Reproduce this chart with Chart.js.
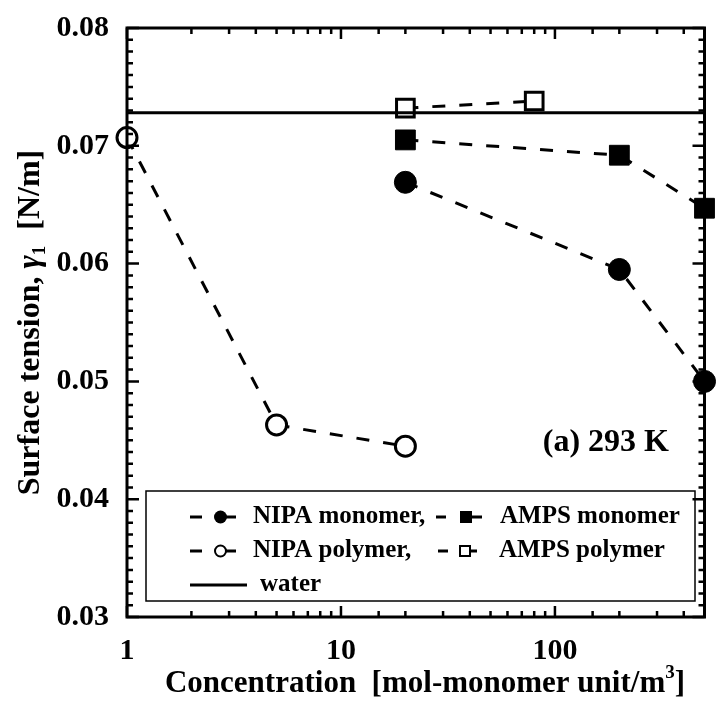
<!DOCTYPE html>
<html><head><meta charset="utf-8">
<script src="https://cdn.jsdelivr.net/npm/chart.js@4/dist/chart.umd.min.js"></script>
<style>html,body{margin:0;padding:0;background:#fff}#wrap{width:720px;height:702px}</style>
</head><body><div id="wrap"><canvas id="c" width="720" height="702"></canvas></div>
<script>
// ---- data ----
const nipaMonoX = [20, 200, 500];
const nipaMonoY = [0.0669, 0.0595, 0.0500];
const ampsMonoX = [20, 200, 500];
const ampsMonoY = [0.0705, 0.0692, 0.0647];
const nipaPolyX = [1, 5, 20];
const nipaPolyY = [0.0707, 0.0463, 0.0445];
const ampsPolyX = [20, 80];
const ampsPolyY = [0.0732, 0.0738];
const waterX = [1, 500];
const waterY = [0.0728, 0.0728];
const xTickLabels = [1, 10, 100];
const yTickLabels = [0.03, 0.04, 0.05, 0.06, 0.07, 0.08];
const legendLabels = ['NIPA monomer,', 'AMPS monomer', 'NIPA polymer,', 'AMPS polymer', 'water'];
const xTitle = 'Concentration  [mol-monomer unit/m';
const yTitleA = 'Surface tension, ';
const yTitleB = '  [N/m]';
const panelLabel = '(a) 293 K';

const FONT = '"Liberation Serif", "Times New Roman", serif';
const pts = (xs, ys) => xs.map((x, i) => ({x: x, y: ys[i]}));
const DASH = [13, 14];

function isMajorY(v){ return yTickLabels.some(t => Math.abs(t - v) < 1e-7); }

const framePlugin = {
  id: 'frame',
  afterDatasetsDraw(chart) {
    const ctx = chart.ctx, a = chart.chartArea;
    const xs = chart.scales.x, ys = chart.scales.y;
    ctx.save();
    ctx.strokeStyle = '#000';
    ctx.lineWidth = 3;
    ctx.strokeRect(a.left, a.top, a.right - a.left, a.bottom - a.top);
    ctx.lineWidth = 2.5;
    xs.ticks.forEach(t => {
      const px = xs.getPixelForValue(t.value);
      if (px < a.left - 1 || px > a.right + 1) return;
      const len = xTickLabels.includes(t.value) ? 11 : 6;
      ctx.beginPath();
      ctx.moveTo(px, a.bottom); ctx.lineTo(px, a.bottom - len);
      ctx.moveTo(px, a.top); ctx.lineTo(px, a.top + len);
      ctx.stroke();
    });
    ys.ticks.forEach(t => {
      const py = ys.getPixelForValue(t.value);
      const len = isMajorY(t.value) ? 12 : 6;
      ctx.beginPath();
      ctx.moveTo(a.left, py); ctx.lineTo(a.left + len, py);
      ctx.moveTo(a.right, py); ctx.lineTo(a.right - len, py);
      ctx.stroke();
    });
    ctx.restore();
  },
  afterDraw(chart) {
    const ctx = chart.ctx, a = chart.chartArea;
    ctx.save();
    ctx.fillStyle = '#000';
    ctx.strokeStyle = '#000';
    ctx.font = 'bold 32px ' + FONT;
    ctx.textAlign = 'right';
    ctx.textBaseline = 'alphabetic';
    ctx.fillText(panelLabel, 669, 451);

    const L = 146, R = 695, T = 491, B = 601;
    ctx.lineWidth = 1.5;
    ctx.strokeRect(L, T, R - L, B - T);
    const rows = [517, 551, 585];
    ctx.font = 'bold 25px ' + FONT;
    ctx.textAlign = 'left';
    ctx.textBaseline = 'middle';
    ctx.lineWidth = 3;
    function seg(x1, x2, y){ ctx.beginPath(); ctx.moveTo(x1, y); ctx.lineTo(x2, y); ctx.stroke(); }
    seg(190, 202, rows[0]); seg(222, 236, rows[0]);
    ctx.beginPath(); ctx.arc(220.5, rows[0], 6.5, 0, Math.PI * 2); ctx.fill();
    ctx.fillText(legendLabels[0], 253, rows[0]);
    seg(436, 446, rows[0]); seg(466, 482, rows[0]);
    ctx.fillRect(460, rows[0] - 6, 12, 12);
    ctx.fillText(legendLabels[1], 500, rows[0]);
    seg(190, 202, rows[1]); seg(226, 236, rows[1]);
    ctx.lineWidth = 2;
    ctx.beginPath(); ctx.arc(220.5, rows[1], 5.5, 0, Math.PI * 2);
    ctx.fillStyle = '#fff'; ctx.fill(); ctx.stroke();
    ctx.fillStyle = '#000';
    ctx.lineWidth = 3;
    seg(438, 448, rows[1]); seg(469, 477, rows[1]);
    ctx.lineWidth = 2;
    ctx.strokeRect(460, rows[1] - 5, 10, 10);
    ctx.lineWidth = 3;
    ctx.fillText(legendLabels[2], 253, rows[1]);
    ctx.fillText(legendLabels[3], 499, rows[1]);
    seg(190, 247, rows[2]);
    ctx.fillText(legendLabels[4], 260, rows[2]);

    // x title
    ctx.font = 'bold 31px ' + FONT;
    ctx.textBaseline = 'alphabetic';
    ctx.textAlign = 'left';
    const w1 = ctx.measureText(xTitle).width;
    ctx.font = 'bold 19px ' + FONT;
    const w2 = ctx.measureText('3').width;
    ctx.font = 'bold 31px ' + FONT;
    const w3 = ctx.measureText(']').width;
    const total = w1 + w2 + w3;
    let x0 = 425 - total / 2;
    const by = 692;
    ctx.fillText(xTitle, x0, by);
    ctx.font = 'bold 19px ' + FONT;
    ctx.fillText('3', x0 + w1, by - 14);
    ctx.font = 'bold 31px ' + FONT;
    ctx.fillText(']', x0 + w1 + w2, by);

    // y title (rotated)
    ctx.save();
    ctx.translate(39, (a.top + a.bottom) / 2);
    ctx.rotate(-Math.PI / 2);
    ctx.font = 'bold 32px ' + FONT;
    const ya = ctx.measureText(yTitleA).width;
    ctx.font = 'italic bold 32px ' + FONT;
    const yg = ctx.measureText('γ').width;
    ctx.font = 'bold 19px ' + FONT;
    const y1 = ctx.measureText('1').width;
    ctx.font = 'bold 32px ' + FONT;
    const yb = ctx.measureText(yTitleB).width;
    const tot = ya + yg + y1 + yb;
    let sx = -tot / 2;
    ctx.textAlign = 'left';
    ctx.textBaseline = 'alphabetic';
    ctx.fillText(yTitleA, sx, 0); sx += ya;
    ctx.font = 'italic bold 32px ' + FONT;
    ctx.fillText('γ', sx, 0); sx += yg;
    ctx.font = 'bold 19px ' + FONT;
    ctx.fillText('1', sx, 6); sx += y1;
    ctx.font = 'bold 32px ' + FONT;
    ctx.fillText(yTitleB, sx, 0);
    ctx.restore();
    ctx.restore();
  }
};

const ds = (label, data, style, radius, filled, dashed) => ({
  label: label,
  data: data,
  showLine: true,
  borderColor: '#000',
  borderWidth: 3,
  borderDash: dashed ? DASH : [],
  pointStyle: style,
  pointRadius: radius,
  pointHoverRadius: radius,
  pointBackgroundColor: filled ? '#000' : '#fff',
  pointBorderColor: '#000',
  pointBorderWidth: filled ? 1 : 3,
  clip: false,
  fill: false
});

new Chart(document.getElementById('c'), {
  type: 'scatter',
  data: {
    datasets: [
      ds('water', pts(waterX, waterY), 'circle', 0, true, false),
      ds('NIPA polymer', pts(nipaPolyX, nipaPolyY), 'circle', 10, false, true),
      ds('NIPA monomer', pts(nipaMonoX, nipaMonoY), 'circle', 11, true, true),
      ds('AMPS monomer', pts(ampsMonoX, ampsMonoY), 'rect', 14, true, true),
      ds('AMPS polymer', pts(ampsPolyX, ampsPolyY), 'rect', 12.5, false, true)
    ]
  },
  options: {
    responsive: false,
    animation: false,
    devicePixelRatio: 1,
    layout: { padding: { top: 28, right: 2, left: 0, bottom: 0 } },
    plugins: { legend: { display: false }, tooltip: { enabled: false } },
    scales: {
      x: {
        type: 'logarithmic',
        min: 1, max: 500,
        grid: { display: false },
        border: { display: false },
        afterFit(s) { s.height = 85; },
        ticks: {
          autoSkip: false, maxRotation: 0, padding: 8,
          color: '#000',
          font: { family: FONT, size: 30, weight: 'bold' },
          callback: (v) => xTickLabels.includes(v) ? String(v) : ''
        }
      },
      y: {
        type: 'linear',
        min: 0.03, max: 0.08,
        grid: { display: false },
        border: { display: false },
        afterFit(s) { s.width = 127; },
        ticks: {
          stepSize: 0.001, autoSkip: false, maxTicksLimit: 100, padding: 10,
          color: '#000',
          font: { family: FONT, size: 30, weight: 'bold' },
          callback: (v) => isMajorY(v) ? v.toFixed(2) : ''
        }
      }
    }
  },
  plugins: [framePlugin]
});
</script>
</body></html>
